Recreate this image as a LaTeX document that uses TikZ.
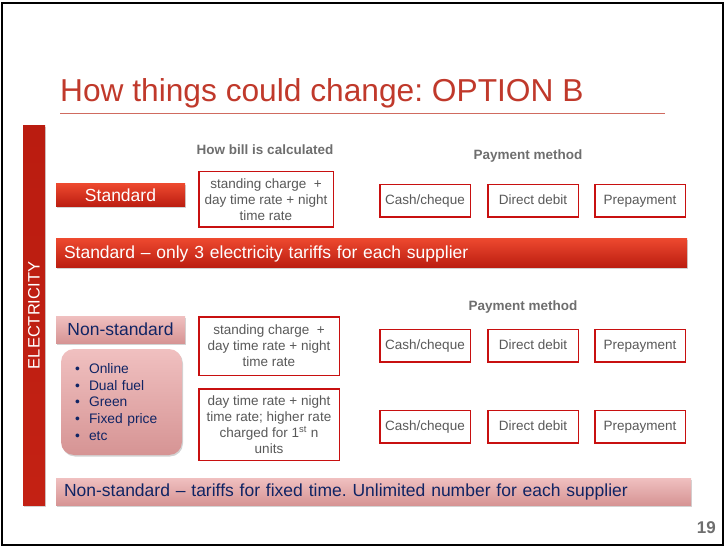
\documentclass[tikz,border=0pt]{standalone}
\usepackage{fontspec}
\setmainfont{Liberation Sans}
\usetikzlibrary{positioning,shadows}

\definecolor{titlered}{RGB}{192,57,43}
\definecolor{boxred}{RGB}{200,16,16}
\definecolor{greytext}{RGB}{89,89,89}
\definecolor{headgrey}{RGB}{110,110,110}
\definecolor{navy}{RGB}{16,36,100}
\definecolor{redtop}{RGB}{236,72,46}
\definecolor{redbot}{RGB}{186,28,16}
\definecolor{barmid}{RGB}{232,54,34}
\definecolor{pinktop}{RGB}{240,192,192}
\definecolor{pinkbot}{RGB}{214,148,148}

\begin{document}
\frenchspacing
\begin{tikzpicture}[x=1pt, y=-1pt,
      every node/.style = {inner sep=0pt, font=\fontsize{13.5}{16}\selectfont},
      redbox/.style = {top color=redtop, bottom color=redbot, text=white,
        font=\fontsize{17.5}{20}\selectfont,
        drop shadow={shadow xshift=1pt, shadow yshift=-1.5pt, opacity=0.35}},
      pinkbox/.style = {top color=pinktop, bottom color=pinkbot, text=navy,
        font=\fontsize{17.5}{20}\selectfont,
        drop shadow={shadow xshift=1pt, shadow yshift=-1.5pt, opacity=0.35}},
      calcbox/.style = {draw=boxred, line width=1.5pt, fill=white,
        text=greytext, align=center},
      paybox/.style = {draw=boxred, line width=1.5pt, fill=white,
        text=greytext, minimum width=90.5, minimum height=32.5,
        text height=10pt, text depth=3pt},
      heading/.style = {font=\bfseries\fontsize{13.5}{16}\selectfont, text=headgrey}]
  \useasboundingbox (0,0) rectangle (726,548);
  \draw[line width=2.5pt] (2,3) rectangle (723,545);

  % title
  \node[anchor=base west, text=titlered, font=\fontsize{31.7}{36}\selectfont]
    (title) at (60,102) {How things could change: OPTION B};
  \draw[titlered!75, line width=1pt] (60,114) -- (665,114);

  % side bar
  \node[rotate=90, minimum width=379, minimum height=22, text=white,
    top color=redbot, middle color=barmid, bottom color=redbot!80!barmid,
    font=\fontsize{16.5}{20}\selectfont,
    drop shadow={shadow xshift=1pt, shadow yshift=-1.5pt, opacity=0.35}]
    (elec) at (34,315.5) {ELECTRICITY};

  % standard tariffs
  \node[redbox, minimum width=129, minimum height=23] (std) at (120.5,195.5) {Standard};
  \node[calcbox, minimum width=134.5, minimum height=55.5] (stdcalc) at (266,199.5)
    {standing charge\ \ +\\day time rate + night\\time rate};
  \node[heading] (billhead) at (265,150) {How bill is calculated};
  \node[heading] (payhead) at (528,156) {Payment method};
  \node[paybox] (stdcash) at (425,201) {Cash/cheque};
  \node[paybox, right=16pt of stdcash] (stddebit) {Direct debit};
  \node[paybox, right=15pt of stddebit] (stdprepay) {Prepayment};
  \node[redbox, text width=615, align=left, inner xsep=8, minimum height=29]
    (stdbanner) at (371.5,253.5)
    {Standard -- only 3 electricity tariffs for each supplier};

  % non-standard tariffs
  \node[pinkbox, minimum width=129, minimum height=27] (nonstd) at (120.5,329.5) {Non-standard};
  \node[pinkbox, rounded corners=13, minimum height=106, text width=93,
    inner xsep=14, font=\fontsize{13.8}{16.8}\selectfont, align=left]
    (extras) at (121.5,402)
    {\textbullet\ \ Online\\\textbullet\ \ Dual fuel\\\textbullet\ \ Green\\
     \textbullet\ \ Fixed price\\\textbullet\ \ etc};
  \node[calcbox, minimum width=140.5, minimum height=58.5] (nscalc) at (269,346)
    {standing charge\ \ +\\day time rate + night\\time rate};
  \node[calcbox, minimum width=140.5, minimum height=71.5] (tiercalc) at (269,424.5)
    {day time rate + night\\time rate; higher rate\\charged for 1\textsuperscript{st} n\\units};
  \node[heading] (payhead2) at (523,307) {Payment method};
  \node[paybox] (nscash) at (425,345.5) {Cash/cheque};
  \node[paybox, right=16pt of nscash] (nsdebit) {Direct debit};
  \node[paybox, right=15pt of nsdebit] (nsprepay) {Prepayment};
  \node[paybox] (tiercash) at (425,426.5) {Cash/cheque};
  \node[paybox, right=16pt of tiercash] (tierdebit) {Direct debit};
  \node[paybox, right=15pt of tierdebit] (tierprepay) {Prepayment};
  \node[pinkbox, text width=619, align=left, inner xsep=8, minimum height=27]
    (nsbanner) at (373.5,491.5)
    {Non-standard -- tariffs for fixed time. Unlimited number for each supplier};

  % slide number
  \node[anchor=base east, font=\bfseries\fontsize{17}{20}\selectfont, text=headgrey]
    (slideno) at (716,533) {19};
\end{tikzpicture}
\end{document}
